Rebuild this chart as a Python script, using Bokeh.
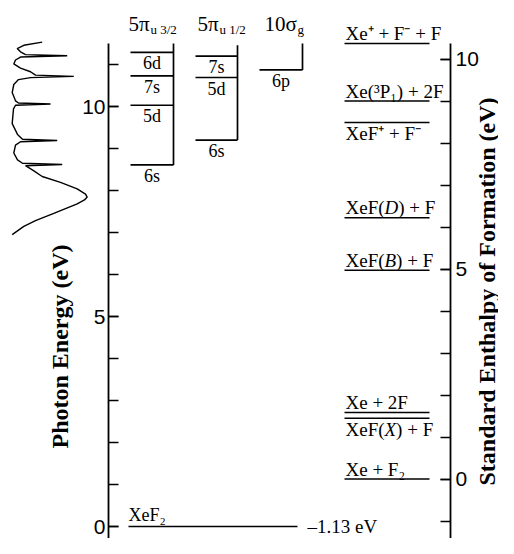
import math
from bokeh.plotting import figure
from bokeh.models import Range1d, LinearAxis, FixedTicker, Label
from bokeh.core.properties import value
from bokeh.embed import file_html
from bokeh.resources import INLINE

# ---------------- data ----------------
# absorption spectrum: photon energy (eV) vs. signal (arb. units)
spec_energy = [11.534, 11.457, 11.380, 11.301, 11.235, 11.207, 11.177, 11.107, 11.014, 10.914,
               10.828, 10.746, 10.718, 10.688, 10.641, 10.524, 10.331, 10.135, 10.082, 10.058,
               10.030, 9.942, 9.592, 9.336, 9.219, 9.189, 9.161, 9.079, 8.893, 8.730,
               8.648, 8.620, 8.590, 8.473, 8.333, 8.193, 8.037, 7.914, 7.844, 7.774,
               7.681, 7.455, 7.284, 7.145, 6.951]
spec_signal = [31.7, 13.3, 6.7, 10.0, 15.0, 56.7, 10.0, 5.0, 3.3, 10.0,
               20.0, 25.0, 63.3, 20.0, 8.0, 3.3, 1.7, 5.0, 8.0, 40.0,
               5.0, 3.0, 1.7, 7.0, 12.0, 46.7, 10.0, 5.0, 3.3, 7.0,
               12.0, 51.7, 15.0, 23.0, 31.7, 50.0, 66.7, 75.0, 76.7, 74.0,
               66.7, 43.3, 25.0, 13.3, 1.7]

# Rydberg series (photon energy, eV)
pi32_levels = [8.61, 10.03, 10.73, 11.29]
pi32_names = ["6s", "5d", "7s", "6d"]
pi12_levels = [9.20, 10.69, 11.20]
pi12_names = ["6s", "5d", "7s"]
sig_levels = [10.87]
sig_names = ["6p"]
series_top = [11.50, 11.46, 11.50]
header_main = ["5π", "5π", "10σ"]
header_sub = ["u 3/2", "u 1/2", "g"]

# standard enthalpies of formation (eV)
xef2_enthalpy = -1.13
enth_values = [10.37, 9.00, 8.49, 6.22, 4.97, 1.585, 1.445, 0.0]
enth_pre = ["Xe⁺ + F⁻ + F", "Xe(³P₁) + 2F", "XeF⁺ + F⁻", "XeF(", "XeF(", "Xe + 2F", "XeF(", "Xe + F₂"]
enth_ital = ["", "", "", "D", "B", "", "X", ""]
enth_post = ["", "", "", ") + F", ") + F", "", ") + F", ""]
enth_below = [False, False, True, False, False, False, True, False]

left_ticks = [0, 5, 10]
left_minor = list(range(-1, 12))
right_ticks = [0, 5, 10]
right_minor = list(range(-1, 11))

# ---------------- layout ----------------
PX_PER_EV = 42.0
ZERO_PX = 526.0              # canvas y of 0 eV photon energy
W, H = 498, 538
y_top = ZERO_PX / PX_PER_EV
y_bot = (ZERO_PX - H) / PX_PER_EV
shift = -xef2_enthalpy       # photon energy = enthalpy + 1.13


def px_to_e(py):
    return (ZERO_PX - py) / PX_PER_EV


SERIF = "Liberation Serif"
SANS = "Liberation Sans"

p = figure(width=W, height=H, x_range=Range1d(0, W), y_range=Range1d(y_bot, y_top),
           x_axis_type=None, y_axis_type=None, toolbar_location=None,
           output_backend="svg", min_border=0, outline_line_color=None,
           background_fill_color="white", border_fill_color="white")
p.extra_y_ranges = {"enth": Range1d(y_bot - shift, y_top - shift)}


def style_axis(ax, standoff):
    ax.axis_line_width = 1.8
    ax.axis_line_color = "black"
    ax.major_tick_in = 10
    ax.major_tick_out = 0
    ax.minor_tick_in = 10
    ax.minor_tick_out = 0
    ax.major_tick_line_width = 1.4
    ax.minor_tick_line_width = 1.4
    ax.major_label_text_font = SANS
    ax.major_label_text_font_size = "21px"
    ax.major_label_text_color = "black"
    ax.major_label_standoff = standoff


AXIS_TOP = 11.5
left_ax = LinearAxis(fixed_location=108, bounds=(y_bot - 1, AXIS_TOP),
                     ticker=FixedTicker(ticks=left_ticks, minor_ticks=left_minor))
style_axis(left_ax, 3)
p.add_layout(left_ax, "left")

right_ax = LinearAxis(y_range_name="enth", fixed_location=450, bounds=(y_bot - shift - 1, AXIS_TOP - shift),
                      ticker=FixedTicker(ticks=right_ticks, minor_ticks=right_minor))
style_axis(right_ax, 5)
p.add_layout(right_ax, "right")

# spectrum
SPEC_X0 = 10
p.line(x=[SPEC_X0 + s for s in spec_signal], y=spec_energy, line_color="black", line_width=1.4)

# Rydberg ladders
col_x0 = [130, 195, 259]
col_x1 = [173, 237, 302]
series = [(pi32_levels, pi32_names), (pi12_levels, pi12_names), (sig_levels, sig_names)]
for i, (lv, nm) in enumerate(series):
    n = len(lv)
    p.segment(x0=[col_x0[i]] * n, y0=lv, x1=[col_x1[i]] * n, y1=lv, line_color="black", line_width=1.7)
    p.segment(x0=[col_x1[i]], y0=[min(lv)], x1=[col_x1[i]], y1=[series_top[i]],
              line_color="black", line_width=1.7)
    cx = (col_x0[i] + col_x1[i]) / 2
    p.text(x=[cx] * n, y=lv, text=nm, text_font=value(SERIF), text_font_size="18px",
           text_align="center", text_baseline="middle", y_offset=11, text_color="black")

# column headers
hdr_y = px_to_e(23.5)
hdr_x = [128, 197, 264]
sub_x = [150, 219, 297]
p.text(x=hdr_x, y=[hdr_y] * 3, text=header_main, text_font=value(SERIF), text_font_size="21px",
       text_align="left", text_baseline="middle", text_color="black")
p.text(x=sub_x, y=[hdr_y] * 3, text=header_sub, text_font=value(SERIF), text_font_size="13px",
       text_align="left", text_baseline="middle", y_offset=5, text_color="black")

# ground state XeF2
p.segment(x0=[128], y0=[xef2_enthalpy], x1=[297], y1=[xef2_enthalpy], y_range_name="enth",
          line_color="black", line_width=1.5)
p.text(x=[128], y=[xef2_enthalpy], text=["XeF₂"], y_range_name="enth", text_font=value(SERIF),
       text_font_size="18px", text_align="left", text_baseline="middle", y_offset=-12, text_color="black")
p.text(x=[307], y=[xef2_enthalpy], text=["–%.2f eV" % abs(xef2_enthalpy)], y_range_name="enth",
       text_font=value(SERIF), text_font_size="19px", text_align="left", text_baseline="middle",
       text_color="black")

# enthalpy levels
n = len(enth_values)
p.segment(x0=[344] * n, y0=enth_values, x1=[429] * n, y1=enth_values, y_range_name="enth",
          line_color="black", line_width=1.5)
ital_w = {"D": 13.7, "B": 11.6, "X": 11.6, "": 0.0}
pre_w = 39.0
for i in range(n):
    yo = 11 if enth_below[i] else -10
    common = dict(y_range_name="enth", text_font=value(SERIF), text_font_size="19px",
                  text_align="left", text_baseline="middle", y_offset=yo, text_color="black")
    p.text(x=[345], y=[enth_values[i]], text=[enth_pre[i]], **common)
    if enth_ital[i]:
        p.text(x=[345], y=[enth_values[i]], text=[enth_ital[i]], x_offset=pre_w,
               text_font_style="italic", **common)
        p.text(x=[345], y=[enth_values[i]], text=[enth_post[i]],
               x_offset=pre_w + ital_w[enth_ital[i]], **common)

# axis titles
p.add_layout(Label(x=59, y=px_to_e(346), text="Photon Energy (eV)", angle=math.pi / 2,
                   text_align="center", text_baseline="middle", text_font=SERIF,
                   text_font_style="bold", text_font_size="24px", text_color="black"))
p.add_layout(Label(x=486, y=px_to_e(291), text="Standard Enthalpy of Formation (eV)", angle=math.pi / 2,
                   text_align="center", text_baseline="middle", text_font=SERIF,
                   text_font_style="bold", text_font_size="24px", text_color="black"))

open("out.html", "w").write(file_html(p, INLINE))
